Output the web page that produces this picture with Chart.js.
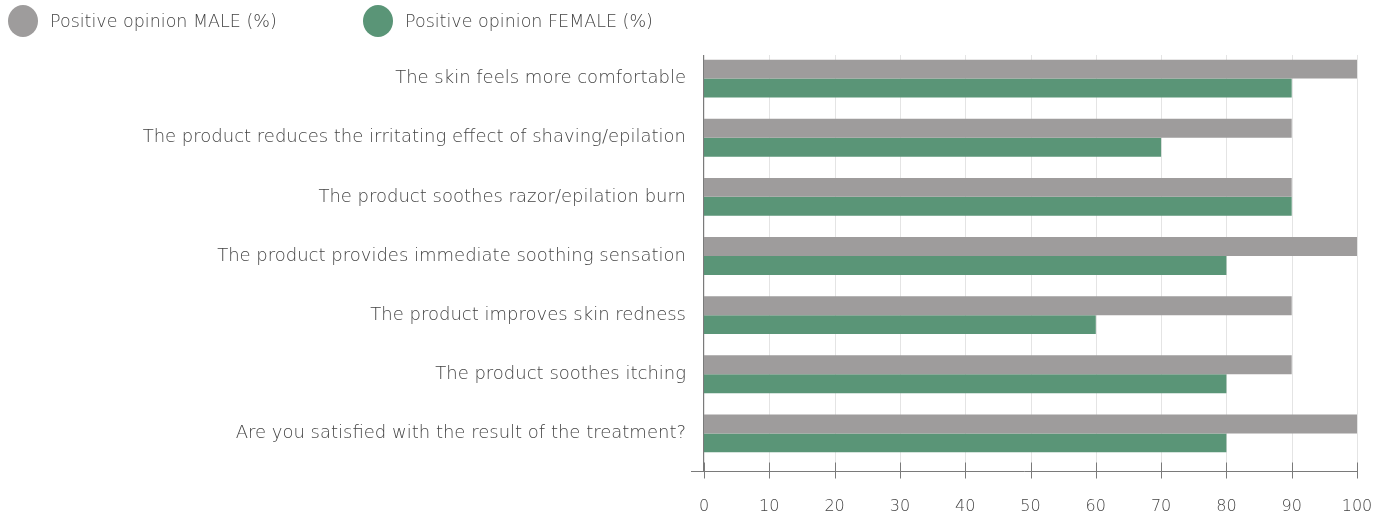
<!DOCTYPE html>
<html>
<head>
<meta charset="utf-8">
<script src="https://cdn.jsdelivr.net/npm/chart.js@4.4.1/dist/chart.umd.min.js"></script>
<style>
  html, body { margin: 0; padding: 0; background: #fff; }
  #wrap { position: relative; width: 1386px; height: 517px; }
  #graphCanvas { position: absolute; left: 0; top: 0; }
  #legend { position: absolute; left: 8px; top: 5px; display: flex; font-family: "DejaVu Sans", sans-serif; font-weight: 200; font-size: 17.5px; color: #444; }
  .item { display: flex; align-items: center; width: 355px; }
  .dot { width: 30px; height: 32px; border-radius: 50%; margin-right: 12px; }
</style>
</head>
<body>
<div id="wrap">
  <canvas id="graphCanvas" width="1386" height="517"></canvas>
  <div id="legend"></div>
</div>
<script>
// data
let categories = [
    'The skin feels more comfortable',
    'The product reduces the irritating effect of shaving/epilation',
    'The product soothes razor/epilation burn',
    'The product provides immediate soothing sensation',
    'The product improves skin redness',
    'The product soothes itching',
    'Are you satisfied with the result of the treatment?'
];
let seriesNames = ['Positive opinion MALE (%)', 'Positive opinion FEMALE (%)'];
let seriesColors = ['#9e9c9c', '#5a9577'];
let maleValues = [100, 90, 90, 100, 90, 90, 100];
let femaleValues = [90, 70, 90, 80, 60, 80, 80];
let xTicks = [0, 10, 20, 30, 40, 50, 60, 70, 80, 90, 100];

let textColor = '#444444';
let labelFont = {family: '"DejaVu Sans", sans-serif', size: 18, weight: 200};
let tickFont = {family: '"DejaVu Sans", sans-serif', size: 16, weight: 200};

// legend (html, built from the series arrays)
let legend = document.getElementById('legend');
seriesNames.forEach((name, i) => {
    let item = document.createElement('div');
    item.className = 'item';
    let dot = document.createElement('span');
    dot.className = 'dot';
    dot.style.background = seriesColors[i];
    let label = document.createElement('span');
    label.textContent = name;
    item.appendChild(dot);
    item.appendChild(label);
    legend.appendChild(item);
});

// grid lines + axis lines drawn like the original (slightly past the plot area)
let axisLines = {
    id: 'axisLines',
    beforeDatasetsDraw(chart) {
        let ctx = chart.ctx;
        let a = chart.chartArea;
        let x = chart.scales.x;
        ctx.save();
        ctx.strokeStyle = '#e4e4e4';
        ctx.lineWidth = 1;
        xTicks.forEach(v => {
            let px = Math.round(x.getPixelForValue(v)) + 0.5;
            ctx.beginPath();
            ctx.moveTo(px, a.top + 6);
            ctx.lineTo(px, a.bottom + 8);
            ctx.stroke();
        });
        ctx.restore();
    },
    afterDatasetsDraw(chart) {
        let ctx = chart.ctx;
        let a = chart.chartArea;
        let x = chart.scales.x;
        let axisY = Math.round(a.bottom + 8) + 0.5;
        ctx.save();
        ctx.strokeStyle = '#7a7a7a';
        ctx.lineWidth = 1;
        ctx.beginPath();
        ctx.moveTo(Math.round(a.left) - 0.5, a.top + 6);
        ctx.lineTo(Math.round(a.left) - 0.5, axisY);
        ctx.moveTo(a.left - 13, axisY);
        ctx.lineTo(a.right + 0.5, axisY);
        xTicks.forEach(v => {
            let px = Math.round(x.getPixelForValue(v)) + 0.5;
            ctx.moveTo(px, axisY - 9);
            ctx.lineTo(px, axisY + 7);
        });
        ctx.stroke();
        ctx.restore();
    }
};

let ctx = document.getElementById('graphCanvas').getContext('2d');
let chart = new Chart(ctx, {
    type: 'bar',
    data: {
        labels: categories,
        datasets: [{
            label: seriesNames[0],
            data: maleValues,
            backgroundColor: seriesColors[0],
            categoryPercentage: 0.64,
            barPercentage: 1.0
        }, {
            label: seriesNames[1],
            data: femaleValues,
            backgroundColor: seriesColors[1],
            categoryPercentage: 0.64,
            barPercentage: 1.0
        }]
    },
    options: {
        indexAxis: 'y',
        responsive: false,
        animation: false,
        devicePixelRatio: 1,
        layout: {padding: {top: 49, right: 29, left: 0, bottom: 0}},
        plugins: {
            legend: {display: false},
            tooltip: {enabled: false}
        },
        scales: {
            x: {
                min: 0,
                max: 100,
                afterFit: scale => { scale.height = 54; },
                afterBuildTicks: scale => { scale.ticks = xTicks.map(v => ({value: v})); },
                // grid hidden; tickLength only pushes the labels down
                grid: {display: false, drawTicks: true, tickLength: 30},
                border: {display: false},
                ticks: {color: textColor, font: tickFont, padding: 4, maxRotation: 0}
            },
            y: {
                afterFit: scale => { scale.width = 704; },
                grid: {display: false, drawTicks: false},
                border: {display: false},
                ticks: {color: textColor, font: labelFont, padding: 18}
            }
        }
    },
    plugins: [axisLines]
});
</script>
</body>
</html>
